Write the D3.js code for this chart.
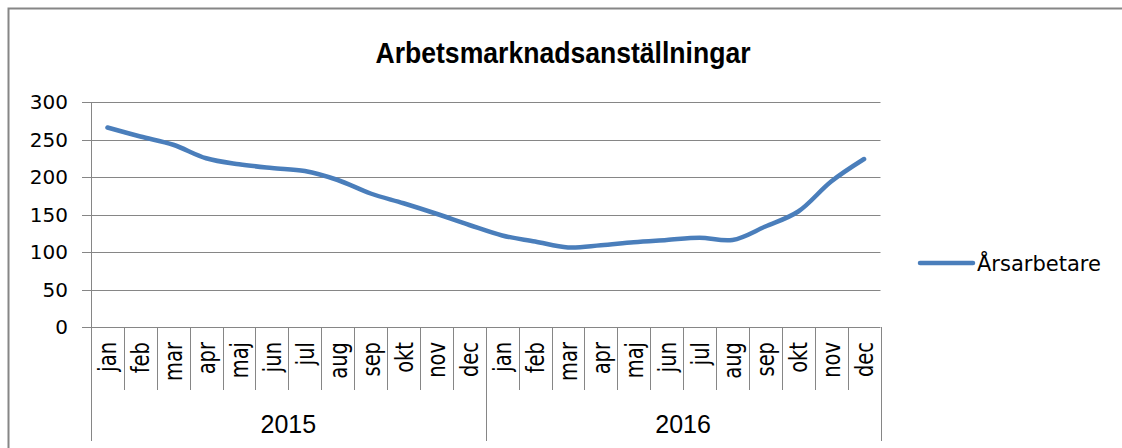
<!DOCTYPE html>
<html>
<head>
<meta charset="utf-8">
<script src="https://cdn.jsdelivr.net/npm/d3@7"></script>
<style>
  body { margin: 0; background: #fff; }
  svg { display: block; }
</style>
</head>
<body>
<div id="chart"></div>
<script>
// Arbetsmarknadsanställningar, årsarbetare per månad 2015-2016

var width = 1122
var height = 448

var chart_title = "Arbetsmarknadsanställningar"
var series_name = "Årsarbetare"
var years = ["2015", "2016"]
var months = ["jan", "feb", "mar", "apr", "maj", "jun", "jul", "aug", "sep", "okt", "nov", "dec"]
var values_2015 = [266, 254, 243, 225, 217, 212, 208, 196, 178, 165, 151, 136]
var values_2016 = [122, 114, 106, 109, 113, 116, 119, 116, 134, 154, 194, 224]
var y_ticks = [0, 50, 100, 150, 200, 250, 300]

var grey = "#868686"
var blue = "#4a7ebb"

// one row per month, both years after each other
var rows = []
years.forEach(function(yr, j) {
    var vals = j === 0 ? values_2015 : values_2016
    months.forEach(function(m, i) {
        rows.push({year: yr, month: m, value: vals[i], idx: j * months.length + i})
    })
})

var plot = {left: 91, right: 880.5, top: 102, bottom: 327}

var x = d3.scaleBand()
    .domain(rows.map(function(d) { return d.idx }))
    .range([plot.left, plot.right])
    .paddingInner(0)
    .paddingOuter(0)

var y = d3.scaleLinear()
    .domain([0, 300])
    .range([plot.bottom, plot.top])

var svg = d3.select("#chart")
    .append("svg")
    .attr("width", width)
    .attr("height", height)

// chart frame (runs out of the picture on the right and bottom)
svg.append("rect")
    .attr("x", 8.5)
    .attr("y", 8.5)
    .attr("width", 1300)
    .attr("height", 600)
    .attr("fill", "none")
    .attr("stroke", grey)
    .attr("stroke-width", 2)

svg.append("text")
    .attr("x", 563)
    .attr("y", 63)
    .attr("text-anchor", "middle")
    .attr("font-family", "'Liberation Sans Narrow', 'Liberation Sans', sans-serif")
    .attr("font-weight", "bold")
    .attr("font-size", 29)
    .attr("textLength", 375)
    .attr("lengthAdjust", "spacingAndGlyphs")
    .attr("fill", "#000")
    .text(chart_title)

// horizontal gridlines + y ticks
svg.append("g")
    .selectAll("line")
    .data(y_ticks)
    .enter()
    .append("line")
    .attr("x1", plot.left - 9)
    .attr("x2", plot.right)
    .attr("y1", function(d) { return Math.round(y(d)) + 0.5 })
    .attr("y2", function(d) { return Math.round(y(d)) + 0.5 })
    .attr("stroke", grey)
    .attr("stroke-width", 1)

svg.append("g")
    .selectAll("text")
    .data(y_ticks)
    .enter()
    .append("text")
    .attr("x", 68)
    .attr("y", function(d) { return y(d) })
    .attr("dy", "0.36em")
    .attr("text-anchor", "end")
    .attr("font-family", "'DejaVu Sans', Verdana, sans-serif")
    .attr("font-size", 20)
    .attr("fill", "#000")
    .text(function(d) { return d })

// y axis line, runs down through the category labels
svg.append("line")
    .attr("x1", plot.left + 0.5)
    .attr("x2", plot.left + 0.5)
    .attr("y1", plot.top)
    .attr("y2", 441)
    .attr("stroke", grey)

// month separators
var bounds = rows.map(function(d) { return x(d.idx) })
bounds.push(plot.right)

svg.append("g")
    .selectAll("line")
    .data(bounds)
    .enter()
    .append("line")
    .attr("x1", function(d) { return Math.round(d) + 0.5 })
    .attr("x2", function(d) { return Math.round(d) + 0.5 })
    .attr("y1", plot.bottom)
    .attr("y2", function(d, i) { return i % months.length === 0 ? 441 : 390 })
    .attr("stroke", grey)

// month labels, rotated (glyphs a bit wide, like the stretched original)
svg.append("g")
    .selectAll("text")
    .data(rows)
    .enter()
    .append("text")
    .attr("transform", function(d) {
        return "translate(" + (x(d.idx) + x.bandwidth() / 2) + ",342) scale(1.25,1) rotate(-90)"
    })
    .attr("dy", "0.37em")
    .attr("text-anchor", "end")
    .attr("font-family", "'DejaVu Sans', Verdana, sans-serif")
    .attr("font-size", 19.5)
    .attr("fill", "#000")
    .text(function(d) { return d.month })

// year labels
svg.append("g")
    .selectAll("text")
    .data(years)
    .enter()
    .append("text")
    .attr("x", function(d, j) {
        var a = x(j * months.length)
        var b = j === years.length - 1 ? plot.right : x((j + 1) * months.length)
        return (a + b) / 2
    })
    .attr("y", 433)
    .attr("text-anchor", "middle")
    .attr("font-family", "'Liberation Sans Narrow', 'Liberation Sans', sans-serif")
    .attr("font-size", 25)
    .attr("fill", "#000")
    .text(function(d) { return d })

// the series, smoothed like the original
var line = d3.line()
    .x(function(d) { return x(d.idx) + x.bandwidth() / 2 })
    .y(function(d) { return y(d.value) })
    .curve(d3.curveCatmullRom.alpha(0.5))

svg.append("path")
    .datum(rows)
    .attr("d", line)
    .attr("fill", "none")
    .attr("stroke", blue)
    .attr("stroke-width", 4.5)
    .attr("stroke-linecap", "round")
    .attr("stroke-linejoin", "round")

// legend
var legend = svg.append("g")
legend.append("line")
    .attr("x1", 920)
    .attr("x2", 973)
    .attr("y1", 263)
    .attr("y2", 263)
    .attr("stroke", blue)
    .attr("stroke-width", 4.5)
    .attr("stroke-linecap", "round")
legend.append("text")
    .attr("x", 977)
    .attr("y", 263)
    .attr("dy", "0.36em")
    .attr("font-family", "'DejaVu Sans', Verdana, sans-serif")
    .attr("font-size", 21)
    .attr("fill", "#000")
    .text(series_name)
</script>
</body>
</html>
